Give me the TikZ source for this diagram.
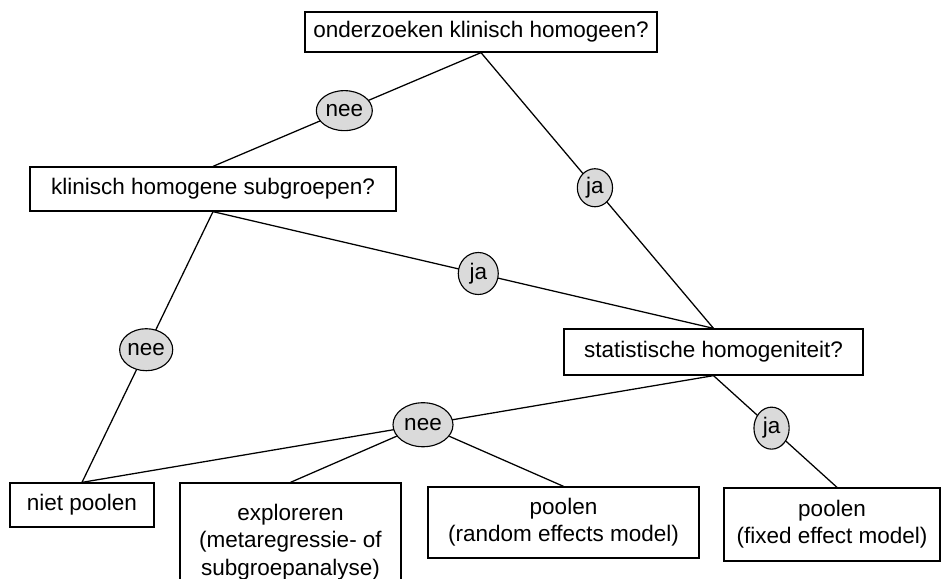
\documentclass[tikz,border=0pt]{standalone}
\usepackage{fontspec}
\setmainfont{Liberation Sans}
\usetikzlibrary{positioning, calc, shapes.geometric}
\definecolor{answergray}{RGB}{218,218,218}
\newcommand{\diagfont}{\fontsize{16}{19.4}\selectfont}
\tikzset{
    questionnode/.style={
        draw, line width=0.9pt, fill=white, font=\diagfont,
        inner sep=0pt, align=center, anchor=center
    },
    answernode/.style={
        ellipse, draw, line width=0.8pt, fill=answergray, font=\diagfont,
        inner sep=0pt, minimum width=0.88cm, minimum height=0.95cm
    },
    link/.style={
        line width=0.9pt, black
    }
}

\begin{document}
\begin{tikzpicture}[x=0.025cm, y=-0.025cm]

        \useasboundingbox (0,0) rectangle (944,578);

        % ======================================
        % VRAGEN
        % ======================================
        \node[questionnode, minimum width=8.8cm, minimum height=1.0cm] (klin) at (481,32) {onderzoeken klinisch homogeen?};
        \node[questionnode, minimum width=9.15cm, minimum height=1.1cm] (subgr) at (213,189) {klinisch homogene subgroepen?};
        \node[questionnode, minimum width=7.475cm, minimum height=1.15cm] (stat) at (713.5,352) {statistische homogeniteit?};

        % ======================================
        % UITKOMSTEN
        % ======================================
        \node[questionnode, minimum width=3.6cm, minimum height=1.1cm] (niet) at (82,505) {niet poolen};
        \node[questionnode, minimum width=5.525cm, minimum height=2.95cm] (expl) at (290.5,542) {exploreren\\(metaregressie- of\\subgroepanalyse)};
        \node[questionnode, minimum width=6.775cm, minimum height=1.775cm] (random) at (563.5,522.5) {poolen\\(random effects model)};
        \node[questionnode, minimum width=5.4cm, minimum height=1.825cm] (fixed) at (832,524.5) {poolen\\(fixed effect model)};

        % ======================================
        % VERBINDINGEN MET JA/NEE
        % ======================================
        \draw[link] (klin.south) -- (subgr.north)
            node[answernode, pos=0.51, minimum width=1.4cm, minimum height=1.0cm] (nee1) {nee};
        \draw[link] (klin.south) -- (stat.north)
            node[answernode, pos=0.49] (ja1) {ja};
        \draw[link] (subgr.south) -- (stat.north)
            node[answernode, pos=0.53, minimum width=1cm, minimum height=1.05cm] (ja2) {ja};
        \draw[link] (subgr.south) -- (niet.north)
            node[answernode, pos=0.51, minimum width=1.3cm, minimum height=1.05cm] (nee2) {nee};
        \draw[link] (stat.south) -- (niet.north)
            node[answernode, pos=0.46, minimum width=1.5cm, minimum height=1.1cm] (nee3) {nee};
        \draw[link] (stat.south) -- ($(fixed.north)+(5,0)$)
            node[answernode, pos=0.47, minimum height=1.05cm] (ja3) {ja};

        % nee -> exploreren / random
        \draw[link] (nee3) -- (expl.north);
        \draw[link] (nee3) -- (random.north);

\end{tikzpicture}
\end{document}
